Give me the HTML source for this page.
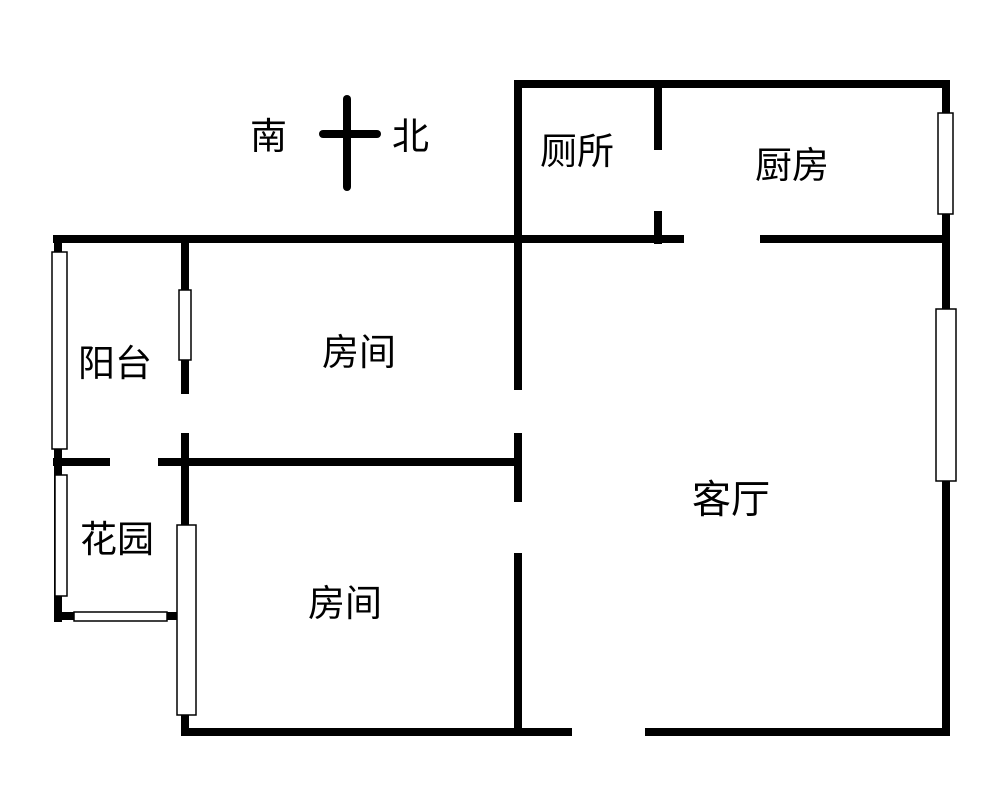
<!DOCTYPE html>
<html><head><meta charset="utf-8"><style>
html,body{margin:0;padding:0;background:#fff;}
svg{display:block;}
text{font-family:"Liberation Sans","Noto Sans CJK SC",sans-serif;font-size:37px;fill:#000;}
</style></head><body>
<svg width="1000" height="806" viewBox="0 0 1000 806" xmlns="http://www.w3.org/2000/svg">
<g stroke="#000" stroke-width="8" stroke-linecap="square" fill="none">
<line x1="347" y1="99" x2="347" y2="187" stroke-linecap="round"/>
<line x1="323" y1="134" x2="377" y2="134" stroke-linecap="round"/>
<line x1="518" y1="84" x2="946" y2="84"/>
<line x1="518" y1="84" x2="518" y2="386"/>
<line x1="518" y1="437" x2="518" y2="498"/>
<line x1="518" y1="557" x2="518" y2="731"/>
<line x1="658" y1="84" x2="658" y2="146"/>
<line x1="658" y1="215" x2="658" y2="240"/>
<line x1="57" y1="239" x2="680" y2="239"/>
<line x1="764" y1="239" x2="946" y2="239"/>
<line x1="946" y1="84" x2="946" y2="732"/>
<line x1="185" y1="732" x2="568" y2="732"/>
<line x1="649" y1="732" x2="946" y2="732"/>
<line x1="58" y1="239" x2="58" y2="618"/>
<line x1="185" y1="239" x2="185" y2="390"/>
<line x1="185" y1="437" x2="185" y2="732"/>
<line x1="57" y1="462" x2="106" y2="462"/>
<line x1="162" y1="462" x2="515" y2="462"/>
<line x1="58" y1="616" x2="180" y2="616"/>
</g>
<g stroke="#000" stroke-width="1.5" fill="#fff">
<rect x="52" y="252" width="15" height="197"/>
<rect x="55" y="475" width="12" height="121"/>
<rect x="74" y="612" width="93" height="9"/>
<rect x="179" y="290" width="12" height="70"/>
<rect x="177" y="525" width="19" height="190"/>
<rect x="938" y="113" width="15" height="101"/>
<rect x="936" y="309" width="20" height="172"/>
</g>
<text x="250" y="149">南</text>
<text x="392" y="149">北</text>
<text x="540" y="164">厕所</text>
<text x="755" y="178">厨房</text>
<text x="78" y="376">阳台</text>
<text x="322" y="365">房间</text>
<text x="80" y="552">花园</text>
<text x="308" y="616">房间</text>
<text x="692" y="513" style="font-size:39px">客厅</text>
</svg>
</body></html>
